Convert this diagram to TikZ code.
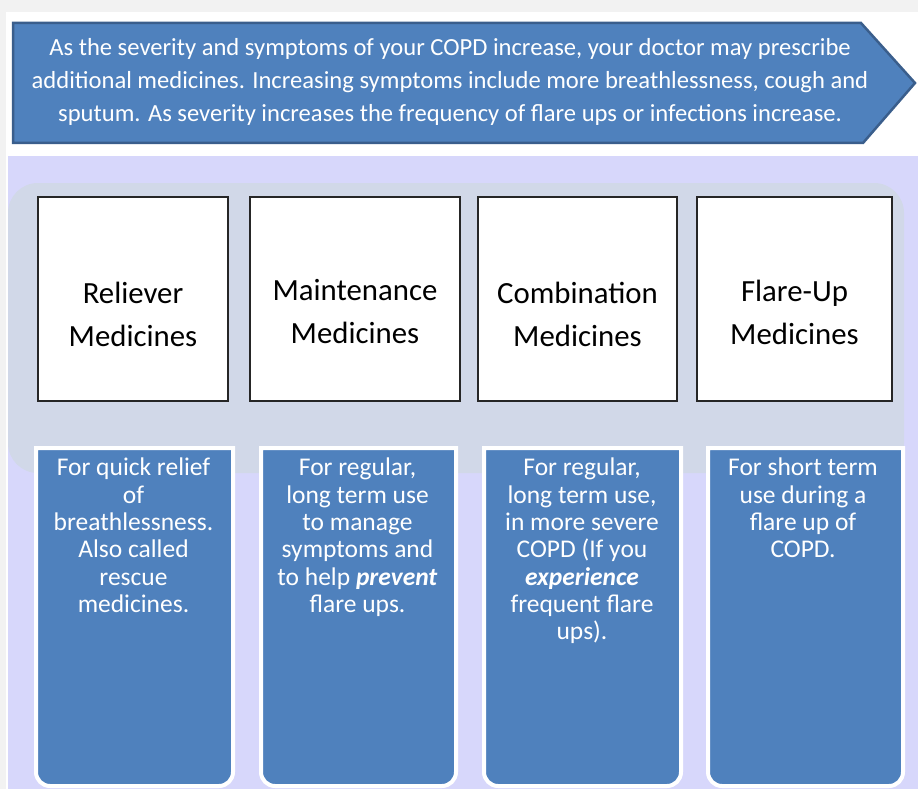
\documentclass[tikz,border=0pt]{standalone}
\usepackage{fontspec}
\setmainfont{Carlito}
\usetikzlibrary{positioning}

\definecolor{copdblue}{HTML}{4F81BD}
\definecolor{copdedge}{HTML}{3A5E8C}
\definecolor{copdlilac}{HTML}{D7D7FB}
\definecolor{copdgrey}{HTML}{D1D8E8}
\definecolor{pagegrey}{HTML}{F2F2F2}

\begin{document}
\begin{tikzpicture}[x=1pt,y=-1pt,
  intro/.style={text=white, align=center, font=\fontsize{24.6}{33}\selectfont},
  classbox/.style={draw=black!85, line width=1.5pt, fill=white, minimum height=204pt},
  classtext/.style={align=center, font=\fontsize{30.8}{43}\selectfont},
  descbox/.style={fill=copdblue, draw=white, line width=4pt},
  desctext/.style={text=white, align=center, anchor=north, inner sep=0pt,
                   font=\fontsize{25.5}{27.3}\selectfont}]

  % page, panel and band behind everything
  \useasboundingbox (0,0) rectangle (918,789);
  \fill[pagegrey] (0,0) rectangle (918,789);
  \fill[white] (6,12) rectangle (918,789);
  \fill[copdlilac] (8,156) rectangle (918,789);
  \fill[copdgrey, rounded corners=30pt] (8,183) rectangle (904,473);

  % pentagon banner on top
  \draw[copdedge, fill=copdblue, line width=2.5pt, line join=miter]
    (13,23) -- (861,23) -- (915,83) -- (863,143) -- (13,143) -- cycle;
  \node[intro] (intro) at (450,82)
    {As the severity and symptoms of your COPD increase, your doctor may prescribe\\
     additional medicines. Increasing symptoms include more breathlessness, cough and\\
     sputum. As severity increases the frequency of flare ups or infections increase.};

  % the four kinds of medicine
  \node[classbox, minimum width=190pt] (reliever) at (133,299) {};
  \node[classbox, minimum width=210pt] (maintenance) at (355,299) {};
  \node[classbox, minimum width=199pt] (combination) at (577.5,299) {};
  \node[classbox, minimum width=195pt] (flareup) at (794.5,299) {};

  \node[classtext] (reliever-t) at ([yshift=-15pt]reliever.center) {Reliever\\Medicines};
  \node[classtext] (maintenance-t) at ([yshift=-13pt]maintenance.center) {Maintenance\\Medicines};
  \node[classtext] (combination-t) at ([yshift=-15pt]combination.center) {Combination\\Medicines};
  \node[classtext] (flareup-t) at ([yshift=-13pt]flareup.center) {Flare-Up\\Medicines};

  % description panels, rounded at the bottom only
  \foreach \l/\r in {36/233, 261/456, 484/681, 708/903}
    \draw[descbox] (\l,448) -- (\r,448) [rounded corners=14pt] -- (\r,786) -- (\l,786)
      [sharp corners] -- (\l,448) -- cycle;

  \node[desctext] (reliever-d) at (133.5,458)
    {For quick relief\\ of\\ breathlessness.\\ Also called\\ rescue\\ medicines.};
  \node[desctext] (maintenance-d) at (357.5,458)
    {For regular,\\ long term use\\ to manage\\ symptoms and\\ to help \textbf{\textit{prevent}}\\ flare ups.};
  \node[desctext] (combination-d) at (582,458)
    {For regular,\\ long term use,\\ in more severe\\ COPD (If you\\ \textbf{\textit{experience}}\\ frequent flare\\ ups).};
  \node[desctext] (flareup-d) at (803,458)
    {For short term\\ use during a\\ flare up of\\ COPD.};

\end{tikzpicture}
\end{document}
